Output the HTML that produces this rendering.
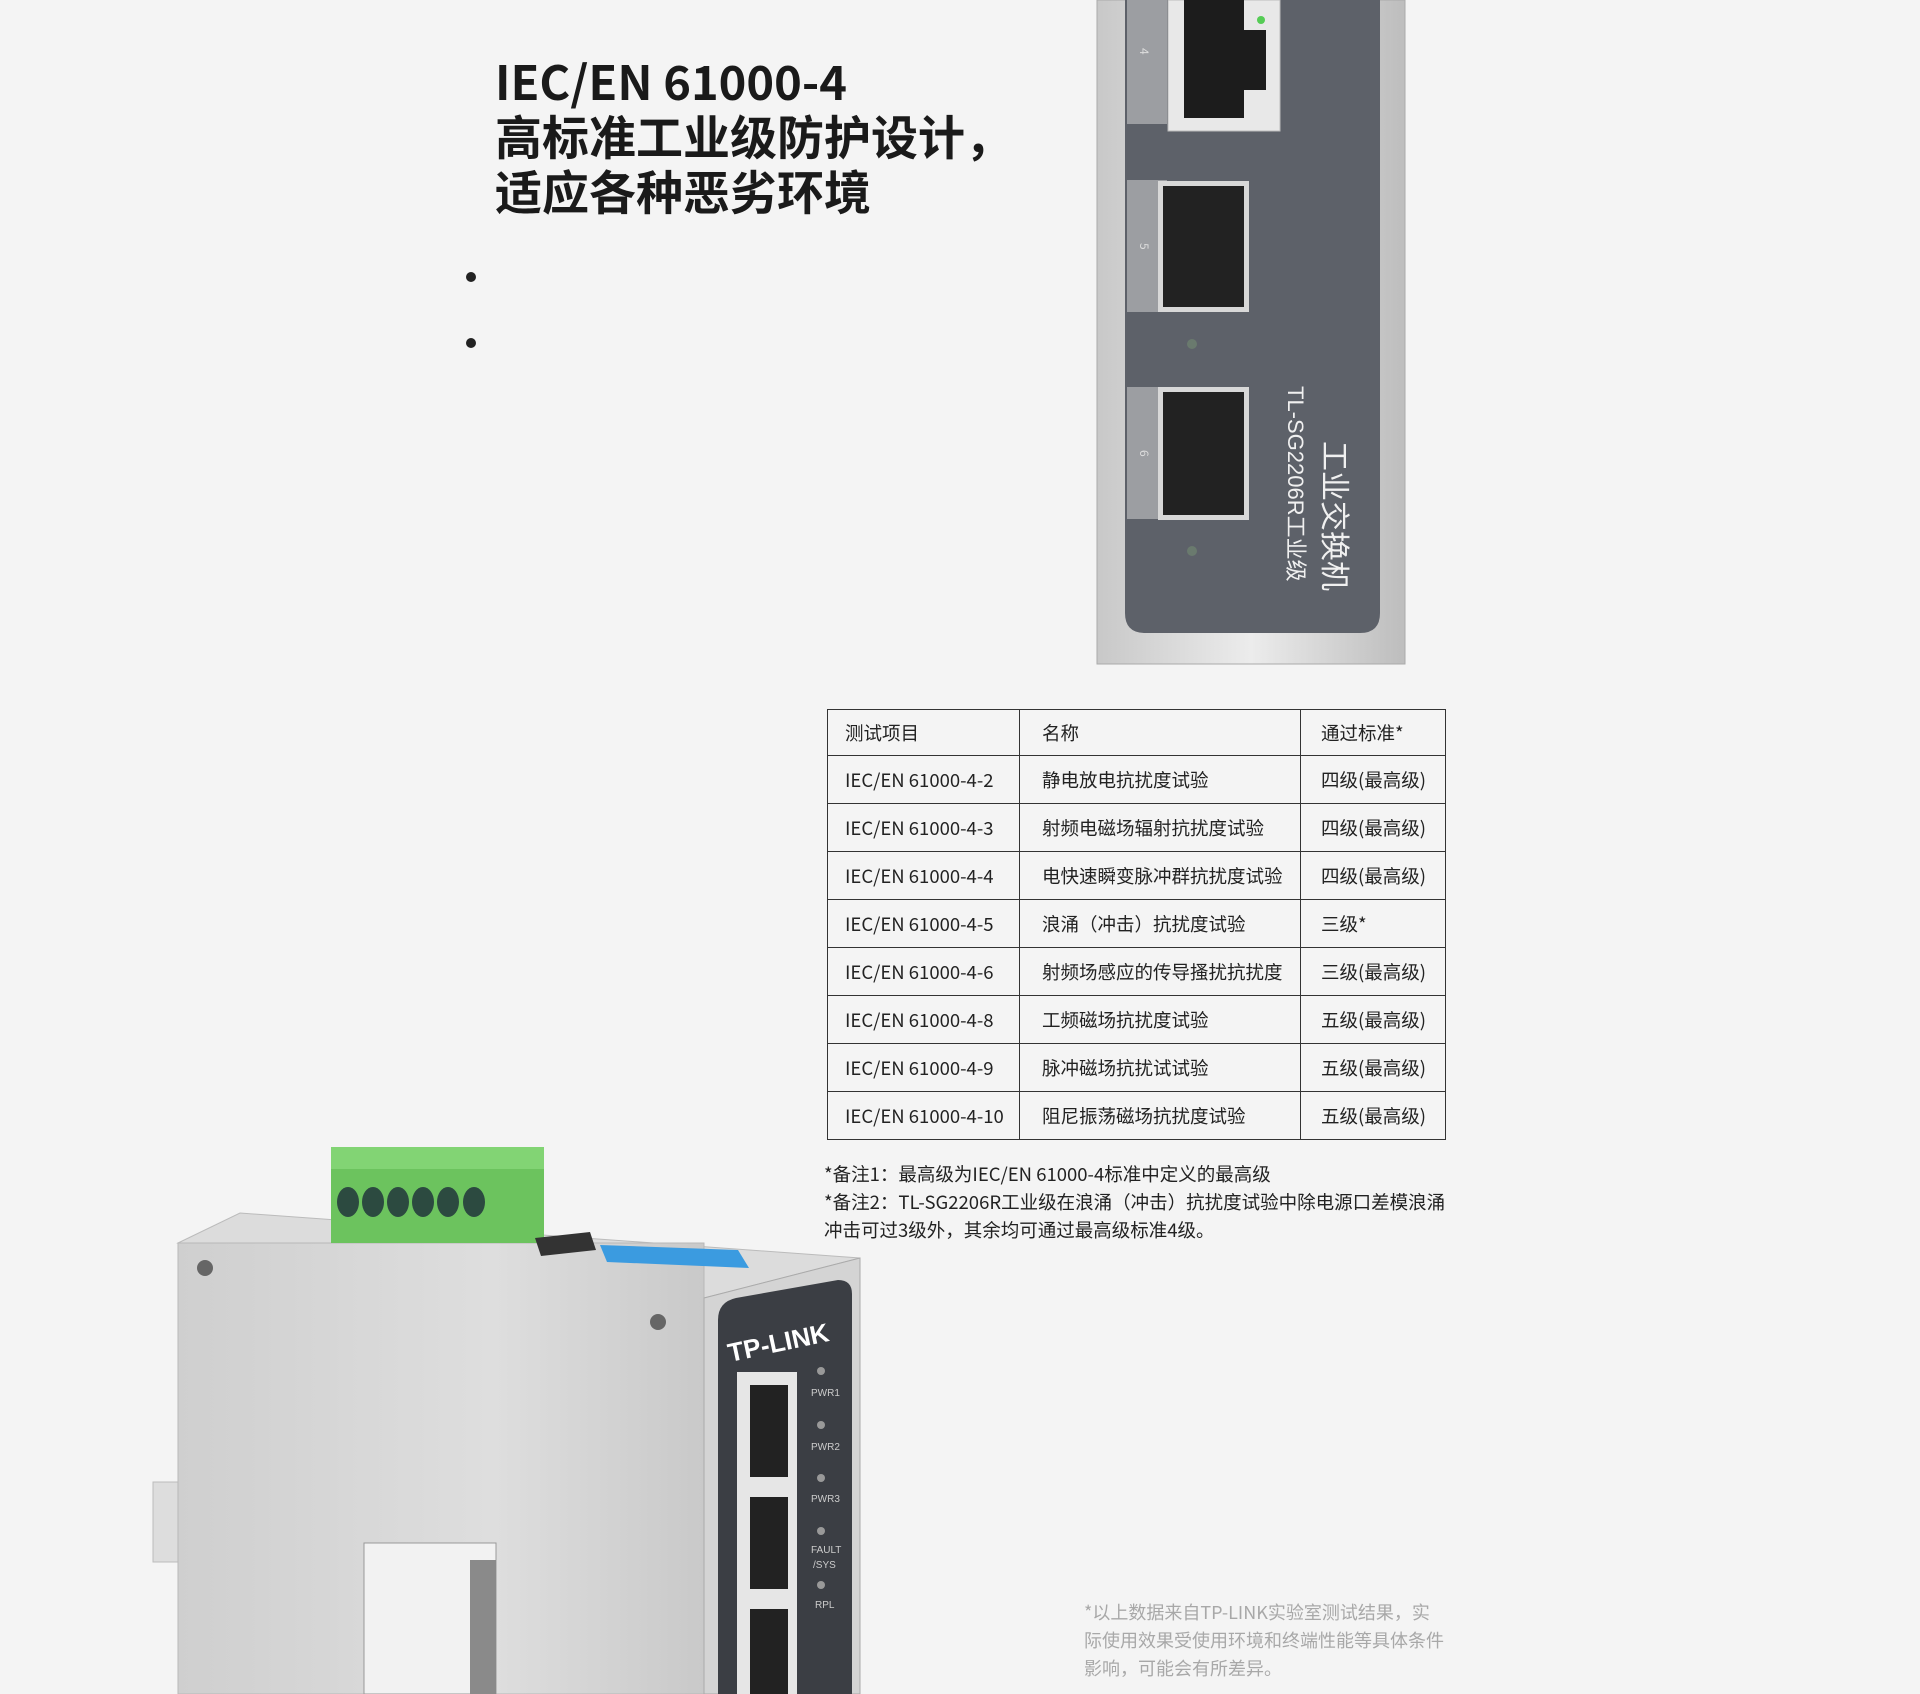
<!DOCTYPE html>
<html><head><meta charset="utf-8">
<style>
html,body{margin:0;padding:0;}
body{width:1920px;height:1694px;position:relative;overflow:hidden;background:#f4f4f4;font-family:"Noto Sans CJK SC","Liberation Sans",sans-serif;color:#222;}
.title{position:absolute;left:495px;top:52px;font-size:47px;font-weight:bold;line-height:55px;color:#1a1a1a;}
.dot{position:absolute;width:10px;height:10px;border-radius:50%;background:#222;}
table{position:absolute;left:827px;top:709px;border-collapse:collapse;font-size:18.5px;color:#222;}
td{border:1.5px solid #333;height:46px;padding:0 0 0 17px;box-sizing:border-box;white-space:nowrap;}
tr.r td{height:48px;}
.notes{position:absolute;left:824px;top:1160px;font-size:18.5px;line-height:28px;color:#222;}
.foot{position:absolute;left:1084px;top:1598px;font-size:18px;line-height:28px;color:#a8a8a8;}
svg{position:absolute;left:0;top:0;}
</style></head><body>
<svg width="1920" height="1694" viewBox="0 0 1920 1694">
<defs>
<linearGradient id="sil" x1="0" x2="1"><stop offset="0" stop-color="#c8c8c8"/><stop offset="0.5" stop-color="#ececec"/><stop offset="1" stop-color="#bdbdbd"/></linearGradient>
<linearGradient id="side" x1="0" x2="1"><stop offset="0" stop-color="#cfcfcf"/><stop offset="0.6" stop-color="#dedede"/><stop offset="1" stop-color="#c9c9c9"/></linearGradient>
</defs>
<rect x="1097" y="0" width="308" height="664" fill="url(#sil)" stroke="#aaa"/>
<path d="M1125 0 H1380 V613 Q1380 633 1360 633 H1145 Q1125 633 1125 613 Z" fill="#5d6169"/>
<rect x="1127" y="0" width="40" height="124" fill="#9c9ea2"/>
<rect x="1127" y="180" width="40" height="132" fill="#9c9ea2"/>
<rect x="1127" y="387" width="40" height="132" fill="#9c9ea2"/>
<rect x="1168" y="0" width="112" height="131" fill="#e8e8e8" stroke="#bbb"/>
<rect x="1184" y="0" width="60" height="118" fill="#1c1c1c"/>
<rect x="1244" y="30" width="22" height="60" fill="#1c1c1c"/>
<circle cx="1261" cy="20" r="4" fill="#5c5"/>
<rect x="1158" y="181" width="91" height="131" fill="#d8d8d8"/><rect x="1163" y="186" width="81" height="121" fill="#222"/>
<rect x="1158" y="387" width="91" height="133" fill="#d8d8d8"/><rect x="1163" y="392" width="81" height="123" fill="#222"/>
<circle cx="1192" cy="344" r="5" fill="#6a7a6e"/><circle cx="1192" cy="551" r="5" fill="#6a7a6e"/>
<text transform="translate(1324,441) rotate(90)" font-size="30" fill="#f0f0f0" font-family="Liberation Sans,Noto Sans CJK SC,sans-serif">工业交换机</text>
<text transform="translate(1288,386) rotate(90)" font-size="22" fill="#f0f0f0" font-family="Liberation Sans,Noto Sans CJK SC,sans-serif">TL-SG2206R工业级</text>
<text transform="translate(1140,48) rotate(90)" font-size="12" fill="#ddd">4</text>
<text transform="translate(1140,243) rotate(90)" font-size="12" fill="#ddd">5</text>
<text transform="translate(1140,450) rotate(90)" font-size="12" fill="#ddd">6</text>
<rect x="153" y="1482" width="28" height="80" fill="#ddd" stroke="#bbb"/>
<polygon points="178,1243 240,1213 860,1258 704,1298" fill="#dcdcdc" stroke="#bbb"/>
<rect x="178" y="1243" width="526" height="451" fill="url(#side)" stroke="#b8b8b8"/>
<polygon points="704,1298 860,1258 860,1694 704,1694" fill="#d4d4d4" stroke="#aaa"/>
<path d="M718 1320 Q718 1302 736 1298 L838 1280 Q852 1280 852 1294 V1694 H718 Z" fill="#3b3e44"/>
<text x="730" y="1362" font-size="26" font-weight="bold" fill="#fff" font-family="Liberation Sans,sans-serif" transform="rotate(-12 730 1362)">TP-LINK</text>
<rect x="737" y="1372" width="60" height="322" fill="#e6e6e6"/>
<rect x="750" y="1385" width="38" height="92" fill="#222"/>
<rect x="750" y="1497" width="38" height="92" fill="#222"/>
<rect x="750" y="1609" width="38" height="85" fill="#222"/>
<g fill="#999"><circle cx="821" cy="1371" r="4"/><circle cx="821" cy="1425" r="4"/><circle cx="821" cy="1478" r="4"/><circle cx="821" cy="1531" r="4"/><circle cx="821" cy="1585" r="4"/></g>
<g font-size="10" fill="#ccc" font-family="Liberation Sans,sans-serif"><text x="811" y="1396">PWR1</text><text x="811" y="1450">PWR2</text><text x="811" y="1502">PWR3</text><text x="811" y="1553">FAULT</text><text x="813" y="1568">/SYS</text><text x="815" y="1608">RPL</text></g>
<rect x="364" y="1543" width="132" height="151" fill="#f2f2f2" stroke="#999"/>
<rect x="470" y="1560" width="26" height="134" fill="#8a8a8a"/>
<rect x="331" y="1147" width="213" height="96" fill="#6cc35e"/>
<rect x="331" y="1147" width="213" height="22" fill="#82d474"/>
<g fill="#2c4a40"><ellipse cx="348" cy="1202" rx="11" ry="15"/><ellipse cx="373" cy="1202" rx="11" ry="15"/><ellipse cx="398" cy="1202" rx="11" ry="15"/><ellipse cx="423" cy="1202" rx="11" ry="15"/><ellipse cx="448" cy="1202" rx="11" ry="15"/><ellipse cx="474" cy="1202" rx="11" ry="15"/></g>
<polygon points="535,1238 590,1232 596,1250 541,1256" fill="#333"/>
<polygon points="600,1245 738,1250 749,1268 607,1262" fill="#3b9be0"/>
<circle cx="205" cy="1268" r="8" fill="#666"/><circle cx="658" cy="1322" r="8" fill="#666"/>
</svg>
<div class="title">IEC/EN 61000-4<br>高标准工业级防护设计，<br>适应各种恶劣环境</div>
<div class="dot" style="left:466px;top:272px"></div>
<div class="dot" style="left:466px;top:338px"></div>
<table>
<tr><td style="width:192px">测试项目</td><td style="width:281px;padding-left:22px">名称</td><td style="width:145px;padding-left:20px">通过标准*</td></tr>
<tr class="r"><td>IEC/EN 61000-4-2</td><td style="padding-left:22px">静电放电抗扰度试验</td><td style="padding-left:20px">四级(最高级)</td></tr>
<tr class="r"><td>IEC/EN 61000-4-3</td><td style="padding-left:22px">射频电磁场辐射抗扰度试验</td><td style="padding-left:20px">四级(最高级)</td></tr>
<tr class="r"><td>IEC/EN 61000-4-4</td><td style="padding-left:22px">电快速瞬变脉冲群抗扰度试验</td><td style="padding-left:20px">四级(最高级)</td></tr>
<tr class="r"><td>IEC/EN 61000-4-5</td><td style="padding-left:22px">浪涌（冲击）抗扰度试验</td><td style="padding-left:20px">三级*</td></tr>
<tr class="r"><td>IEC/EN 61000-4-6</td><td style="padding-left:22px">射频场感应的传导搔扰抗扰度</td><td style="padding-left:20px">三级(最高级)</td></tr>
<tr class="r"><td>IEC/EN 61000-4-8</td><td style="padding-left:22px">工频磁场抗扰度试验</td><td style="padding-left:20px">五级(最高级)</td></tr>
<tr class="r"><td>IEC/EN 61000-4-9</td><td style="padding-left:22px">脉冲磁场抗扰试试验</td><td style="padding-left:20px">五级(最高级)</td></tr>
<tr class="r"><td>IEC/EN 61000-4-10</td><td style="padding-left:22px">阻尼振荡磁场抗扰度试验</td><td style="padding-left:20px">五级(最高级)</td></tr>
</table>
<div class="notes">*备注1：最高级为IEC/EN 61000-4标准中定义的最高级<br>*备注2：TL-SG2206R工业级在浪涌（冲击）抗扰度试验中除电源口差模浪涌<br>冲击可过3级外，其余均可通过最高级标准4级。</div>
<div class="foot">*以上数据来自TP-LINK实验室测试结果，实<br>际使用效果受使用环境和终端性能等具体条件<br>影响，可能会有所差异。</div>
</body></html>
